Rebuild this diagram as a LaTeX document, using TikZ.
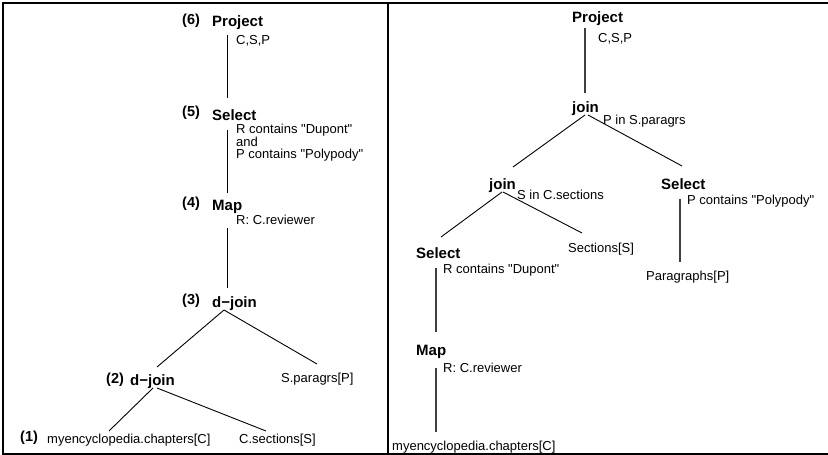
\documentclass[tikz,border=0pt]{standalone}
\usepackage{fontspec}
\setmainfont{Liberation Sans}[Ligatures=TeXOff]
\begin{document}
\begin{tikzpicture}[x=1pt,y=-1pt,
  op/.style={anchor=base west,inner sep=0pt,font=\fontsize{15}{17}\selectfont\bfseries},
  num/.style={anchor=base west,inner sep=0pt,font=\fontsize{14.5}{17}\selectfont\bfseries},
  lbl/.style={anchor=base west,inner sep=0pt,font=\fontsize{13}{13}\selectfont},
  edge/.style={draw=black,line width=0.9pt},
  stem/.style={draw=black!75,line width=1.3pt},
  frame/.style={draw=black,line width=1.7pt}]
\useasboundingbox (0,0) rectangle (828,455);

% frame and divider
\coordinate (tl) at (3,3);   \coordinate (tr) at (828,3);
\coordinate (bl) at (3,454); \coordinate (br) at (828,454);
\coordinate (dt) at (388,3); \coordinate (db) at (388,454);
\draw[frame] (tr) -- (tl) -- (bl) -- (br);
\draw[frame] (dt) -- (db);

% ---------- left plan ----------
\node[num] (n6) at (182,24) {(6)};
\node[op]  (lproj) at (212,27) {Project};
\node[lbl] (lprojA) at (236,44) {C,S,P};
\node[num] (n5) at (182,116) {(5)};
\node[op]  (lsel) at (212,120) {Select};
\node[lbl] (lselA) at (236,133) {R contains "Dupont"};
\node[lbl] (lselB) at (236,146) {and};
\node[lbl] (lselC) at (236,158) {P contains "Polypody"};
\node[num] (n4) at (182,207) {(4)};
\node[op]  (lmap) at (212,210) {Map};
\node[lbl] (lmapA) at (236,224) {R: C.reviewer};
\node[num] (n3) at (182,304) {(3)};
\node[op]  (ldj3) at (212,307) {d−join};
\node[num] (n2) at (106,383) {(2)};
\node[op]  (ldj2) at (130,385) {d−join};
\node[lbl] (lpar) at (281,382) {S.paragrs[P]};
\node[num] (n1) at (20,441) {(1)};
\node[lbl] (lchap) at (47,443) {myencyclopedia.chapters[C]};
\node[lbl] (lsec) at (239,443) {C.sections[S]};

\coordinate (a1) at (227,35);  \coordinate (a2) at (227,98);
\coordinate (b1) at (227,130); \coordinate (b2) at (227,193);
\coordinate (c1) at (227,228); \coordinate (c2) at (227,288);
\coordinate (d0) at (224,310); \coordinate (d1) at (157,367); \coordinate (d2) at (317,364);
\coordinate (e0) at (153,388); \coordinate (e1) at (109,431);
\coordinate (f0) at (157,388); \coordinate (f1) at (266,431);
\draw[edge] (a1) -- (a2);
\draw[edge] (b1) -- (b2);
\draw[edge] (c1) -- (c2);
\draw[edge] (d0) -- (d1);
\draw[edge] (d0) -- (d2);
\draw[edge] (e0) -- (e1);
\draw[edge] (f0) -- (f1);

% ---------- right plan ----------
\node[op]  (rproj) at (572,23) {Project};
\node[lbl] (rprojA) at (598,42) {C,S,P};
\node[op]  (rj1) at (572,112) {join};
\node[lbl] (rj1A) at (603,124) {P in S.paragrs};
\node[op]  (rj2) at (489,189) {join};
\node[lbl] (rj2A) at (517,199) {S in C.sections};
\node[op]  (rselP) at (661,189) {Select};
\node[lbl] (rselPA) at (687,204) {P contains "Polypody"};
\node[lbl] (rsecs) at (568,252) {Sections[S]};
\node[lbl] (rparas) at (646,280) {Paragraphs[P]};
\node[op]  (rselD) at (416,258) {Select};
\node[lbl] (rselDA) at (443,273) {R contains "Dupont"};
\node[op]  (rmap) at (416,355) {Map};
\node[lbl] (rmapA) at (443,372) {R: C.reviewer};
\node[lbl] (rchap) at (392,450) {myencyclopedia.chapters[C]};

\coordinate (g1) at (585,28);  \coordinate (g2) at (585,93);
\coordinate (h0) at (585,115); \coordinate (h1) at (513,167);
\coordinate (i0) at (588,115); \coordinate (i1) at (682,166);
\coordinate (j0) at (502,192); \coordinate (j1) at (441,237);
\coordinate (k0) at (503,192); \coordinate (k1) at (582,233);
\coordinate (m1) at (680,199); \coordinate (m2) at (680,262);
\coordinate (p1) at (436,268); \coordinate (p2) at (436,332);
\coordinate (q1) at (436,368); \coordinate (q2) at (436,432);
\draw[stem] (g1) -- (g2);
\draw[edge] (h0) -- (h1);
\draw[edge] (i0) -- (i1);
\draw[edge] (j0) -- (j1);
\draw[edge] (k0) -- (k1);
\draw[stem] (m1) -- (m2);
\draw[stem] (p1) -- (p2);
\draw[stem] (q1) -- (q2);
\end{tikzpicture}
\end{document}
